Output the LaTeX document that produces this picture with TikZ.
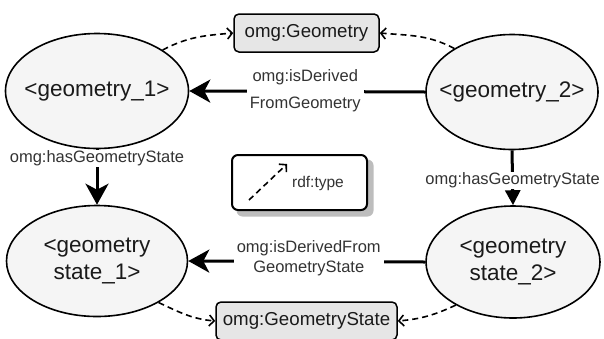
\documentclass[tikz,border=0pt]{standalone}
\usepackage{fontspec}
\setmainfont{Liberation Sans}
\usetikzlibrary{arrows.meta,shapes.geometric}
\definecolor{ellfill}{HTML}{F5F5F5}
\definecolor{boxfill}{HTML}{E6E6E6}
\definecolor{nodetext}{HTML}{1A1A1A}
\definecolor{labeltext}{HTML}{333333}
\definecolor{shadowgray}{HTML}{BDBDBD}
% centred text of zero width, so the ellipse size comes from the style only
\newcommand{\insttext}[1]{\makebox[0pt][c]{\begin{tabular}{@{}c@{}}#1\end{tabular}}}
\begin{document}
\begin{tikzpicture}[x=1pt,y=-1pt,
  inst/.style={ellipse, draw=black, line width=1.6pt, fill=ellfill, text=nodetext,
    font=\fontsize{22.5}{27}\selectfont, inner sep=0pt},
  cls/.style={rectangle, rounded corners=5pt, draw=black, line width=1.5pt, fill=boxfill,
    text=nodetext, minimum width=145pt, minimum height=38pt, inner sep=0pt,
    font=\fontsize{18.7}{22}\selectfont},
  rel/.style={line width=3pt, -{Stealth[length=21pt,width=23pt,inset=6pt]}},
  relb/.style={line width=3pt, -{Triangle[length=15pt,width=15pt]}},
  typeof/.style={line width=1.6pt, dash pattern=on 6pt off 4pt,
    -{Straight Barb[length=5pt,width=11pt,line width=1.6pt]}},
  elabel/.style={fill=white, text=labeltext, inner xsep=3pt, inner ysep=1pt, align=center},
  legendbox/.style={rectangle, rounded corners=6pt, draw=black, line width=2pt, fill=white,
    minimum width=135pt, minimum height=55pt},
  shadowbox/.style={rectangle, rounded corners=6pt, fill=shadowgray,
    minimum width=137pt, minimum height=57pt}
]
\useasboundingbox (0,0) rectangle (604,338);

% instances
\node[inst, minimum width=183pt, minimum height=115pt] (g1) at (97,91) {\insttext{<geometry\_1>}};
\node[inst, minimum width=172pt, minimum height=115pt] (g2) at (512,92) {\insttext{<geometry\_2>}};
\node[inst, minimum width=181pt, minimum height=111pt] (s1) at (97,261) {\insttext{<geometry\\state\_1>}};
\node[inst, minimum width=174pt, minimum height=112pt] (s2) at (513,262) {\insttext{<geometry\\state\_2>}};

% classes
\node[cls] (cg) at (306.5,33) {omg:Geometry};
\node[cls, minimum width=181pt] (cs) at (306.5,321) {omg:GeometryState};

% legend
\node[shadowbox] (legshadow) at (305,188) {};
\node[legendbox] (leg) at (299.5,182.5) {};
\coordinate (la) at (249,200);
\coordinate (lb) at (287,164);
\draw[typeof] (la) -- (lb);
\node[text=labeltext, font=\fontsize{15.5}{18}\selectfont] (lt) at (318,183) {rdf:type};

% derivation relations
\draw[rel] (g2.west) -- (g1.east)
  node[elabel, midway, xshift=-2pt, yshift=1pt, font=\fontsize{16.5}{27}\selectfont] (l1) {omg:isDerived\\FromGeometry};
\draw[rel] (s2.west) -- (s1.east)
  node[elabel, midway, xshift=2pt, yshift=3pt, font=\fontsize{16.5}{20}\selectfont] (l2) {omg:isDerivedFrom\\GeometryState};

% state relations
\draw[rel] (g1.south) -- (s1.north)
  node[elabel, pos=0.17, font=\fontsize{16.5}{20}\selectfont] (l3) {omg:hasGeometryState};
\draw[relb] (g2.south) -- (s2.north)
  node[elabel, pos=0.55, font=\fontsize{16.5}{20}\selectfont] (l4) {omg:hasGeometryState};

% type links
\draw[typeof] (g1.32) to[out=28, in=185] (cg.west);
\draw[typeof] (g2.143) to[out=152, in=-5] (cg.east);
\draw[typeof] (s1.-34) to[out=-25, in=175] (cs.west);
\draw[typeof] (s2.-143) to[out=-155, in=5] (cs.east);
\end{tikzpicture}
\end{document}
